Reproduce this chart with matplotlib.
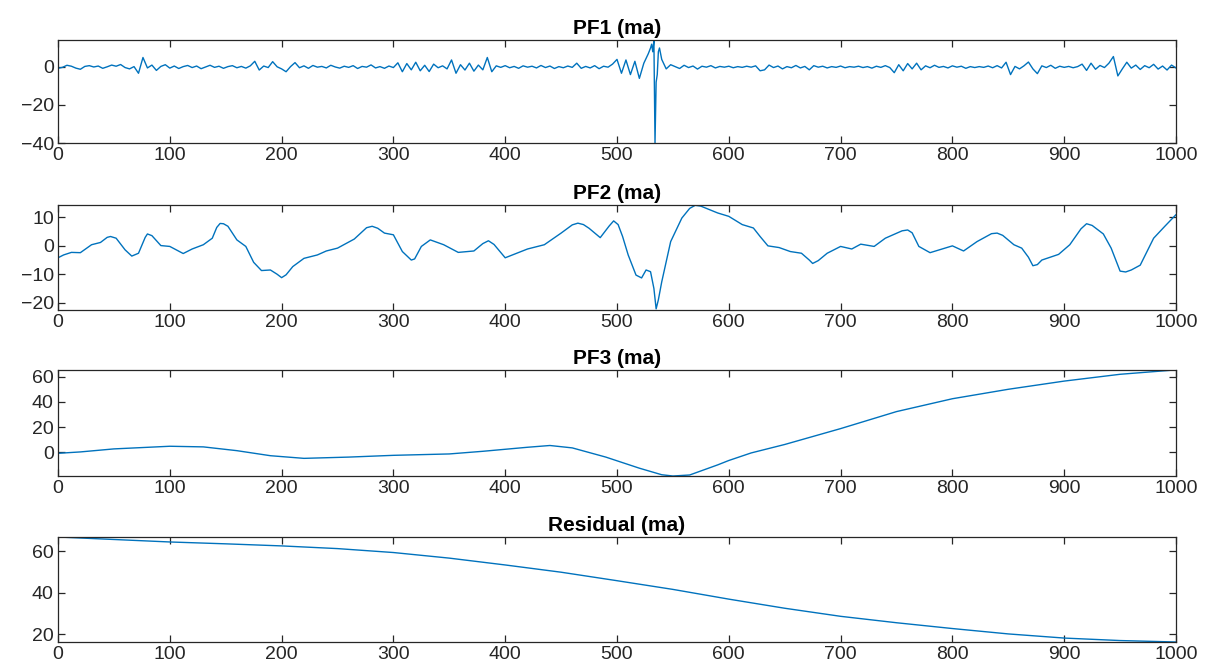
import matplotlib
matplotlib.use("Agg")
import matplotlib.pyplot as plt

plt.rcParams['font.family'] = ['Liberation Sans', 'DejaVu Sans']

# ---------------- data ----------------
titles = ["PF1 (ma)", "PF2 (ma)", "PF3 (ma)", "Residual (ma)"]
x_ticks = [0, 100, 200, 300, 400, 500, 600, 700, 800, 900, 1000]

pf1_step_x = list(range(0, 1001, 4))
pf1_step_y = [
    -0.7, -0.2, 0.9, 0.4, -0.6, -1.2, 0.3, 0.7, 0.0, 0.5, -0.7, 0.1, 1.0, 0.4, 1.3, -0.3,
    -1.0, 0.2, -3.3, 5.0, -0.5, 1.0, -1.8, 0.3, 1.2, -0.6, 0.5, -0.8, 0.2, 0.8, -0.3, 0.5,
    -0.9, 0.0, 0.9, -0.2, 0.4, -0.7, 0.2, 0.7, -0.4, 0.3, -0.6, 0.6, 3.0, -1.6, 0.5, -0.3,
    2.8, 0.1, -1.0, -2.5, 0.2, 2.3, -0.4, 0.6, -0.7, 0.8, -0.1, 0.3, -0.5, 0.9, 0.0, -0.6,
    0.4, -0.2, 0.7, -0.8, 0.3, -0.1, 1.1, -0.5, 0.2, -0.7, 0.5, -0.3, 2.2, -2.5, 1.8, -1.5,
    2.5, -2.0, 0.9, -2.4, 1.5, -0.4, 0.6, -1.0, 3.7, -3.3, 1.2, -1.6, 2.0, -2.2, 1.0, -1.5,
    5.0, -2.5, 0.6, -0.2, 0.7, -0.4, 0.3, -0.7, 0.6, -0.1, 0.4, -0.5, 0.8, -0.3, 0.5, -0.8,
    0.2, -0.4, 0.5, -0.2, 2.0, -0.7, 0.3, -0.5, 0.7, -0.9, 0.4, -0.1, 1.5, 4.0, -3.3, 3.7,
    -4.0, 3.0, -6.0, 2.0, 7.0, 8.0, -4.0, 4.0, -1.0, 1.2, 0.2, -0.8, 0.9, -0.3, 0.5, -1.1,
    0.4, -0.1, 0.7, -0.5, 0.3, -0.1, 0.4, -0.4, 0.2, -0.2, 0.4, -0.1, 0.6, -2.0, -1.5, 1.0,
    -0.3, 0.5, -1.0, 0.2, -0.4, 0.8, -0.5, 0.3, -1.5, 0.7, -0.1, 0.4, -0.5, 0.2, -0.2, 0.5,
    -0.4, 0.2, -0.1, 0.4, -0.3, 0.2, -0.6, 0.4, -0.2, 0.7, -0.3, -3.0, 1.2, -2.0, 1.8, -1.0,
    2.0, -1.5, 0.6, -0.4, 0.9, -0.2, 0.3, -0.5, 0.6, -0.1, 0.4, -0.7, 0.2, -0.3, 0.2, -0.2,
    0.5, -0.4, 0.7, -0.5, 2.5, -4.0, 0.3, -1.0, 0.6, 2.6, -1.0, -3.5, 0.6, -0.3, 0.9, -0.7,
    0.4, -0.2, 0.3, -0.4, 0.2, 1.5, -1.8, 2.0, -1.2, 0.8, -0.3, 2.0, 5.5, -4.7, -1.0, 2.5,
    -0.6, 1.0, -1.3, 0.7, -0.4, 1.4, -1.1, 0.5, -1.6, 1.0, -0.5,
]
# PF1: finer samples around the large spike
pf1_spike_x = [530, 531, 533, 534, 535, 537, 538, 539]
pf1_spike_y = [10.0, 12.0, 14.0, -40.0, -8.0, 8.0, 10.0, 7.0]

pf2_x = [0, 5, 12, 20, 30, 38, 44, 47, 52, 60, 66, 72, 78, 80, 84, 92, 100, 112, 120, 130,
         138, 142, 145, 148, 152, 160, 168, 175, 182, 190, 196, 200, 204, 210, 220, 232,
         240, 250, 265, 276, 281, 286, 292, 300, 308, 316, 319, 325, 333, 345, 358, 372,
         380, 385, 390, 400, 420, 435, 450, 460, 465, 470, 475, 485, 493, 497, 501, 505,
         510, 517, 522, 526, 530, 533, 535, 537, 540, 548, 558, 565, 570, 575, 590, 600,
         612, 622, 628, 635, 645, 655, 665, 672, 675, 680, 688, 700, 710, 718, 730, 740,
         755, 760, 764, 770, 780, 800, 810, 822, 835, 840, 845, 855, 862, 868, 872, 876,
         880, 895, 905, 915, 920, 925, 935, 942, 950, 955, 960, 968, 980, 990, 1000]
pf2_y = [-4.2, -3.2, -2.3, -2.4, 0.4, 1.2, 3.0, 3.3, 2.7, -1.4, -3.6, -2.6, 3.0, 4.2, 3.6,
         0.1, -0.2, -2.7, -1.1, 0.4, 2.7, 6.5, 7.9, 7.8, 6.9, 2.1, -0.2, -5.8, -8.7, -8.5,
         -10.0, -11.2, -10.2, -7.3, -4.4, -3.2, -1.8, -0.8, 2.4, 6.4, 6.9, 6.2, 4.5, 3.9,
         -2.0, -5.0, -4.6, -0.2, 2.1, 0.4, -2.3, -1.8, 0.8, 1.8, 0.5, -4.2, -1.1, 0.4, 4.5,
         7.4, 8.0, 7.5, 6.2, 2.9, 7.0, 8.8, 7.5, 3.3, -3.2, -10.3, -11.3, -8.5, -9.1, -15.0,
         -22.2, -19.0, -12.7, 1.5, 9.8, 13.2, 14.3, 14.0, 11.6, 10.4, 7.5, 6.3, 3.3, 0.0,
         -0.6, -2.0, -2.6, -5.0, -6.2, -5.2, -2.6, -0.2, -1.1, 0.6, -0.2, 2.7, 5.3, 5.6, 4.6,
         -0.2, -2.4, 0.0, -1.8, 1.5, 4.3, 4.5, 3.7, 0.4, -0.8, -4.0, -7.0, -6.6, -5.0, -3.0,
         0.4, 6.0, 7.8, 7.2, 4.2, -0.8, -8.9, -9.2, -8.5, -6.8, 2.7, 6.9, 11.0]

pf3_x = [0, 20, 50, 100, 130, 160, 190, 220, 260, 300, 350, 380, 420, 440, 460, 490, 520,
         540, 550, 565, 590, 600, 620, 650, 700, 750, 800, 850, 900, 950, 1000]
pf3_y = [-0.8, 0.3, 2.7, 4.8, 4.3, 1.3, -2.7, -4.8, -3.8, -2.4, -1.3, 0.8, 4.0, 5.4, 3.5,
         -3.8, -12.6, -17.8, -18.8, -18.0, -10.0, -6.5, -0.5, 6.2, 18.8, 32.3, 42.5, 50.0,
         56.5, 61.9, 65.4]

res_x = [0, 50, 100, 150, 200, 250, 300, 350, 400, 450, 500, 550, 600, 650, 700, 750, 800,
         850, 900, 950, 1000]
res_y = [67.0, 65.8, 64.6, 63.7, 62.7, 61.4, 59.5, 56.8, 53.5, 50.0, 45.9, 41.7, 37.0,
         32.6, 28.7, 25.6, 22.8, 20.2, 18.2, 17.0, 16.3]

y_limits = [(-40, 14.2), (-22.6, 14.4), (-18.8, 65.3), (16.3, 67.0)]
y_ticks = [[-40, -20, 0], [-20, -10, 0, 10], [0, 20, 40, 60], [20, 40, 60]]

# merge PF1 arrays
pf1_pairs = dict(zip(pf1_step_x, pf1_step_y))
pf1_pairs.update(dict(zip(pf1_spike_x, pf1_spike_y)))
pf1_x = sorted(pf1_pairs)
pf1_y = [pf1_pairs[k] for k in pf1_x]

series = [(pf1_x, pf1_y), (pf2_x, pf2_y), (pf3_x, pf3_y), (res_x, res_y)]

# ---------------- plot ----------------
W, H = 1205, 666
fig = plt.figure(figsize=(W / 100, H / 100), dpi=100)
panels_px = [(40, 143), (205, 310), (370, 476), (537, 642)]
left_px, right_px = 58, 1176
axcol = '#262626'
line_col = '#0072BD'

for i, ((top, bot), (xs, ys)) in enumerate(zip(panels_px, series)):
    ax = fig.add_axes([left_px / W, 1 - bot / H, (right_px - left_px) / W, (bot - top) / H])
    ax.plot(xs, ys, color=line_col, linewidth=1.0)
    ax.set_xlim(0, 1000)
    ax.set_ylim(*y_limits[i])
    ax.set_xticks(x_ticks)
    ax.set_yticks(y_ticks[i])
    ax.tick_params(direction='in', top=True, right=True, length=5, width=0.9,
                   colors=axcol, labelsize=14, pad=3)
    for s in ax.spines.values():
        s.set_color(axcol)
        s.set_linewidth(0.9)
    ax.set_title(titles[i], fontsize=15, fontweight='bold', color='black', pad=4)

fig.savefig('out.png', dpi=100)
